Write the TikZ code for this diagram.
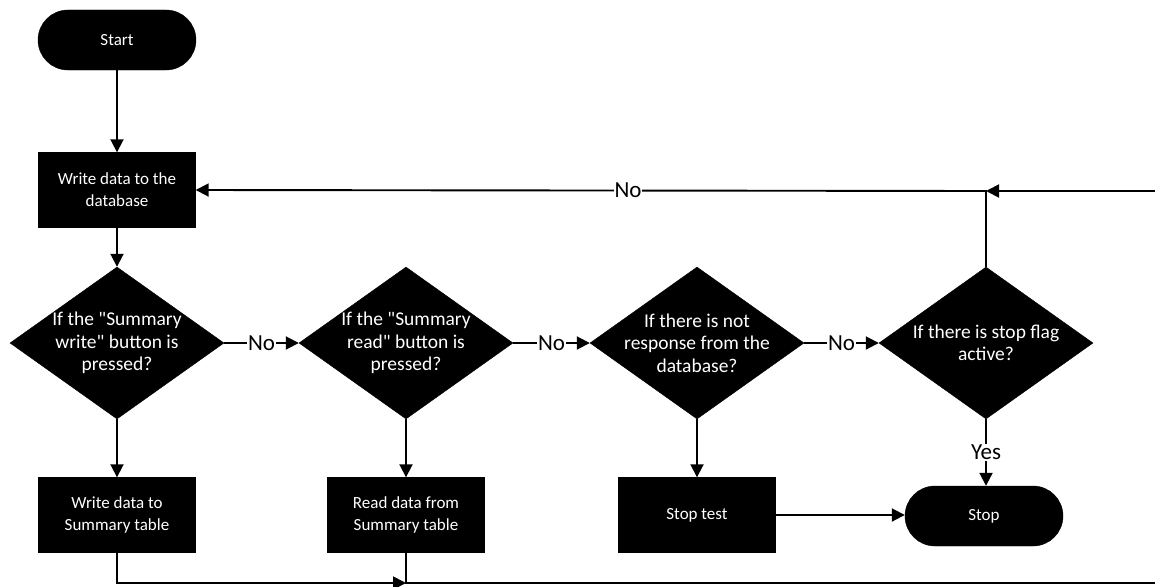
\documentclass[tikz,border=0pt]{standalone}
\usepackage{fontspec}
\setmainfont{Carlito}[Ligatures=TeXOff]
\usetikzlibrary{shapes.geometric,arrows.meta}
\begin{document}
\begin{tikzpicture}[x=1pt,y=-1pt,
  base/.style={fill=black,draw=black,text=white,font=\fontsize{17}{22}\selectfont,align=center,inner sep=0pt},
  proc/.style={base,rectangle,minimum width=157pt,minimum height=75pt},
  term/.style={base,rectangle,rounded corners=30pt,minimum width=158pt,minimum height=60pt},
  dec/.style={base,diamond,minimum width=214pt,minimum height=152pt},
  dtxt/.style={text=white,font=\fontsize{19.5}{22.5}\selectfont,align=center,inner sep=0pt},
  wire/.style={line width=1.9pt,line join=miter},
  conn/.style={wire,-{Triangle[length=13pt,width=13pt]}},
  lbl/.style={fill=white,font=\fontsize{23}{26}\selectfont,inner sep=1pt}
]
\useasboundingbox (0,0) rectangle (1155,586);
\clip (0,0) rectangle (1155,586);

% nodes
\node[term] (start) at (117,40) {Start};
\node[proc] (wdb) at (117,190) {Write data to the\\database};

\node[dec] (d1) at (117,343) {};
\node[dtxt] at (d1) {If the "Summary\\write" button is\\pressed?};
\node[dec] (d2) at (406,343) {};
\node[dtxt] at (d2) {If the "Summary\\read" button is\\pressed?};
\node[dec] (d3) at (697,343) {};
\node[dtxt] at (d3) {If there is not\\response from the\\database?};
\node[dec] (d4) at (986,343) {};
\node[dtxt] at (d4) {If there is stop flag\\active?};

\node[proc] (wst) at (117,515) {Write data to\\Summary table};
\node[proc] (rst) at (406,515) {Read data from\\Summary table};
\node[proc] (stt) at (697,515) {Stop test};
\node[term] (stop) at (984,516) {Stop};

% helper points of the return loop
\coordinate (join) at (986,191);
\coordinate (wsb) at (117,583);
\coordinate (rsb) at (406,583);
\coordinate (far) at (1175,583);
\coordinate (fartop) at (1175,191);

% connectors
\draw[conn] (start) -- (wdb);
\draw[conn] (wdb) -- (d1);
\draw[conn] (d1.east) -- node[lbl] {No} (d2.west);
\draw[conn] (d2.east) -- node[lbl] {No} (d3.west);
\draw[conn] (d3.east) -- node[lbl] {No} (d4.west);
\draw[conn] (d1.south) -- (wst.north);
\draw[conn] (d2.south) -- (rst.north);
\draw[conn] (d3.south) -- (stt.north);
\draw[conn] (d4.south) -- node[lbl] {Yes} (d4.south |- stop.north);
\draw[conn] (stt.east) -- (stt.east -| stop.west);
\draw[conn] (d4.north) -- (join) -- node[lbl,pos=0.453] {No} (wdb.east);
\draw[conn] (wst.south) -- (wsb) -- (rsb);
\draw[conn] (rst.south) -- (rsb) -- (far) -- (fartop) -- (join);
\end{tikzpicture}
\end{document}
